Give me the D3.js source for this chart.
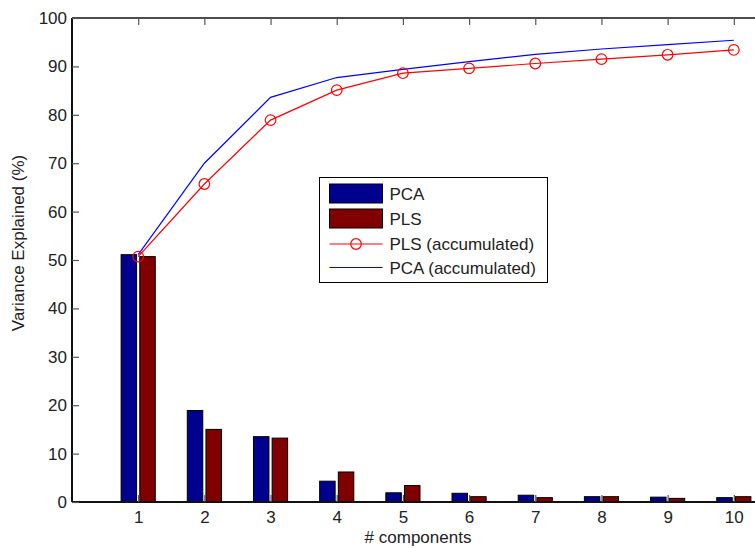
<!DOCTYPE html>
<html>
<head>
<meta charset="utf-8">
<script src="https://cdn.jsdelivr.net/npm/d3@7"></script>
<style>
  html, body { margin: 0; padding: 0; background: #fff; }
  svg text { font-family: 'Liberation Sans', Arial, Helvetica, sans-serif; fill: #222; }
</style>
</head>
<body>
<div id="chart"></div>
<script>
// values
const components = [1, 2, 3, 4, 5, 6, 7, 8, 9, 10]
const pcaValues = [51.1, 18.9, 13.5, 4.3, 1.9, 1.8, 1.4, 1.1, 1.0, 0.9]
const plsValues = [50.7, 15.0, 13.2, 6.2, 3.4, 1.1, 0.9, 1.1, 0.75, 1.1]
const plsAccum = [50.7, 65.7, 78.9, 85.1, 88.6, 89.6, 90.6, 91.5, 92.4, 93.4]
const pcaAccum = [51.1, 70.0, 83.6, 87.7, 89.4, 91.0, 92.5, 93.6, 94.5, 95.4]
const yTicks = [0, 10, 20, 30, 40, 50, 60, 70, 80, 90, 100]

const width = 755
const height = 548
const margin = { top: 18, left: 72, bottom: 46 }
const plotRight = 800  // axes run past the right edge of the picture
const fontSize = 17

const svg = d3.select('#chart')
  .append('svg')
  .attr('width', width)
  .attr('height', height)

const x = d3.scaleLinear().domain([0, 11]).range([margin.left, plotRight])
const y = d3.scaleLinear().domain([0, 100]).range([height - margin.bottom, margin.top])

const barW = 0.234  // in x units
const barOff = 0.141

const pcaColor = '#00008f'
const plsColor = '#800000'

// bars
const groups = [
  { values: pcaValues, color: pcaColor, off: -barOff },
  { values: plsValues, color: plsColor, off: barOff },
]
groups.forEach(g => {
  svg.append('g')
    .selectAll('rect')
    .data(components)
    .enter()
    .append('rect')
    .attr('x', (d) => x(d + g.off - barW / 2))
    .attr('width', x(barW) - x(0))
    .attr('y', (d, i) => y(g.values[i]))
    .attr('height', (d, i) => y(0) - y(g.values[i]))
    .attr('fill', g.color)
    .attr('stroke', '#000')
    .attr('stroke-width', 1)
})

// axes (MATLAB style, ticks pointing inward)
const tickLen = 7
const yAxis = d3.axisLeft(y).tickValues(yTicks).tickSize(-tickLen).tickPadding(5)
const xAxis = d3.axisBottom(x).tickValues(components).tickSize(-tickLen).tickPadding(9)
const xTop = d3.axisTop(x).tickValues(components).tickSize(-tickLen).tickFormat('')

function styleAxis(g) {
  g.select('.domain').attr('stroke', '#111').attr('stroke-width', 2)
  g.selectAll('.tick line').attr('stroke', '#555').attr('stroke-width', 1.2)
  g.selectAll('.tick text').attr('font-size', fontSize).attr('fill', '#222')
    .attr('font-family', "'Liberation Sans', Arial, sans-serif")
}

svg.append('g')
  .attr('transform', `translate(0, ${margin.top})`)
  .call(xTop)
  .call(g => g.select('.domain').attr('d', `M${margin.left},0H${plotRight}`))
  .call(styleAxis)
  .call(g => g.select('.domain').attr('stroke-width', 1.5))

svg.append('g')
  .attr('transform', `translate(0, ${y(0)})`)
  .call(xAxis)
  .call(g => g.select('.domain').attr('d', `M${margin.left},0H${plotRight}`))
  .call(styleAxis)

svg.append('g')
  .attr('transform', `translate(${margin.left}, 0)`)
  .call(yAxis)
  .call(g => g.select('.domain').attr('d', `M0,${y(0)}V${y(100)}`))
  .call(styleAxis)

// accumulated lines
const line = d3.line()
  .x((d, i) => x(components[i]))
  .y((d) => y(d))

svg.append('path')
  .datum(pcaAccum)
  .attr('fill', 'none')
  .attr('stroke', '#0000ff')
  .attr('stroke-width', 1.2)
  .attr('d', line)

svg.append('path')
  .datum(plsAccum)
  .attr('fill', 'none')
  .attr('stroke', '#ff0000')
  .attr('stroke-width', 1.2)
  .attr('d', line)

svg.append('g')
  .selectAll('circle')
  .data(plsAccum)
  .enter()
  .append('circle')
  .attr('cx', (d, i) => x(components[i]))
  .attr('cy', (d) => y(d))
  .attr('r', 5.3)
  .attr('fill', 'none')
  .attr('stroke', '#ff0000')
  .attr('stroke-width', 1.2)

// axis titles
svg.append('text')
  .attr('x', 418)
  .attr('y', 543)
  .attr('text-anchor', 'middle')
  .attr('font-size', fontSize)
  .text('# components')

svg.append('text')
  .attr('transform', 'translate(24, 243) rotate(-90)')
  .attr('text-anchor', 'middle')
  .attr('font-size', fontSize)
  .text('Variance Explained (%)')

// legend
const lg = svg.append('g').attr('transform', 'translate(319.5, 177.5)')
lg.append('rect')
  .attr('width', 228)
  .attr('height', 105)
  .attr('fill', '#fff')
  .attr('stroke', '#000')
  .attr('stroke-width', 1)

const legendItems = [
  { label: 'PCA', kind: 'bar', color: pcaColor, cy: 16 },
  { label: 'PLS', kind: 'bar', color: plsColor, cy: 41 },
  { label: 'PLS (accumulated)', kind: 'marker', color: '#ff0000', cy: 66.5 },
  { label: 'PCA (accumulated)', kind: 'line', color: '#0000ff', cy: 90 },
]
legendItems.forEach(it => {
  if (it.kind === 'bar') {
    lg.append('rect')
      .attr('x', 10).attr('y', it.cy - 9.5)
      .attr('width', 53).attr('height', 19)
      .attr('fill', it.color)
      .attr('stroke', '#000')
  } else {
    lg.append('line')
      .attr('x1', 10).attr('x2', 63)
      .attr('y1', it.cy).attr('y2', it.cy)
      .attr('stroke', it.color)
      .attr('stroke-width', 1.2)
    if (it.kind === 'marker') {
      lg.append('circle')
        .attr('cx', 36.5).attr('cy', it.cy).attr('r', 5.3)
        .attr('fill', 'none').attr('stroke', it.color).attr('stroke-width', 1.2)
    }
  }
  lg.append('text')
    .attr('x', 70)
    .attr('y', it.cy)
    .attr('dy', '0.36em')
    .attr('font-size', fontSize)
    .text(it.label)
})
</script>
</body>
</html>
